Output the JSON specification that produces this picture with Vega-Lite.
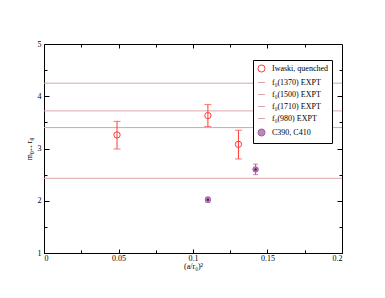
{
  "$schema": "https://vega.github.io/schema/vega-lite/v6.json",
  "width": 298,
  "height": 209,
  "autosize": {"type": "none"},
  "padding": {"left": 44, "top": 44, "right": 43, "bottom": 45},
  "background": "white",
  "config": {
    "view": {"stroke": "black", "strokeWidth": 1},
    "font": "Liberation Serif",
    "axis": {
      "grid": false,
      "domainColor": "black",
      "tickColor": "black",
      "labelColor": "black",
      "titleColor": "black",
      "labelFont": "Liberation Serif",
      "titleFont": "Liberation Serif",
      "labelFontSize": 8,
      "titleFontSize": 8,
      "titleFontWeight": "normal"
    },
    "legend": {
      "orient": "none",
      "legendX": 209,
      "legendY": 16,
      "strokeColor": "black",
      "fillColor": "white",
      "padding": 4,
      "labelFont": "Liberation Serif",
      "labelFontSize": 8,
      "labelColor": "black",
      "symbolSize": 50,
      "symbolStrokeWidth": 1,
      "rowPadding": 3,
      "labelOffset": 6
    }
  },
  "datasets": {
    "iwasaki": [
      {"x": 0.049, "y": 3.26, "lo": 2.99, "hi": 3.52, "series": "Iwaski, quenched"},
      {"x": 0.11, "y": 3.63, "lo": 3.42, "hi": 3.84, "series": "Iwaski, quenched"},
      {"x": 0.1305, "y": 3.08, "lo": 2.8, "hi": 3.35, "series": "Iwaski, quenched"}
    ],
    "clover": [
      {"x": 0.142, "y": 2.6, "lo": 2.5, "hi": 2.7, "series": "C390, C410"},
      {"x": 0.11, "y": 2.02, "lo": 1.97, "hi": 2.07, "series": "C390, C410"}
    ],
    "expt": [
      {"series": "f₀(1370) EXPT", "value": 3.4},
      {"series": "f₀(1500) EXPT", "value": 3.72},
      {"series": "f₀(1710) EXPT", "value": 4.25},
      {"series": "f₀(980)  EXPT", "value": 2.43}
    ]
  },
  "layer": [
    {
      "data": {"name": "expt"},
      "mark": {"type": "rule", "strokeWidth": 1},
      "encoding": {
        "y": {"field": "value", "type": "quantitative", "scale": {"domain": [1, 5], "nice": false}, "axis": null},
        "stroke": {"field": "series", "type": "nominal", "title": null,
          "scale": {
            "domain": ["Iwaski, quenched", "f₀(1370) EXPT", "f₀(1500) EXPT", "f₀(1710) EXPT", "f₀(980)  EXPT", "C390, C410"],
            "range": ["#ff3b3b", "#d9a3a6", "#dba8ae", "#d8a4ab", "#dca5a6", "#a060a0"]
          }
        }
      }
    },
    {
      "data": {"name": "iwasaki"},
      "mark": {"type": "errorbar", "ticks": {"size": 7, "color": "#ff3b3b"}, "color": "#ff3b3b"},
      "encoding": {
        "x": {"field": "x", "type": "quantitative", "scale": {"domain": [0, 0.2], "nice": false}, "axis": null},
        "y": {"field": "lo", "type": "quantitative", "scale": {"domain": [1, 5], "nice": false}, "axis": null},
        "y2": {"field": "hi"}
      }
    },
    {
      "data": {"name": "clover"},
      "mark": {"type": "errorbar", "ticks": {"size": 5, "color": "#9a5a9a"}, "color": "#9a5a9a"},
      "encoding": {
        "x": {"field": "x", "type": "quantitative", "scale": {"domain": [0, 0.2], "nice": false}, "axis": null},
        "y": {"field": "lo", "type": "quantitative", "scale": {"domain": [1, 5], "nice": false}, "axis": null},
        "y2": {"field": "hi"}
      }
    },
    {
      "data": {"name": "iwasaki"},
      "mark": {"type": "point", "size": 40, "strokeWidth": 1, "opacity": 1},
      "encoding": {
        "x": {"field": "x", "type": "quantitative", "scale": {"domain": [0, 0.2], "nice": false},
          "axis": {"orient": "bottom", "values": [0, 0.05, 0.1, 0.15, 0.2], "format": "~g", "tickSize": -4, "labelPadding": 5, "title": "(a/r₀)²", "titlePadding": 0}},
        "y": {"field": "y", "type": "quantitative", "scale": {"domain": [1, 5], "nice": false},
          "axis": {"orient": "left", "values": [1, 2, 3, 4, 5], "tickSize": -5, "labelPadding": 8, "title": "m₀₊₊ r₀", "titlePadding": 4}},
        "stroke": {"field": "series", "type": "nominal", "title": null},
        "fill": {"field": "series", "type": "nominal", "title": null,
          "scale": {
            "domain": ["Iwaski, quenched", "f₀(1370) EXPT", "f₀(1500) EXPT", "f₀(1710) EXPT", "f₀(980)  EXPT", "C390, C410"],
            "range": ["transparent", "transparent", "transparent", "transparent", "transparent", "#b888b8"]
          }
        },
        "shape": {"field": "series", "type": "nominal", "title": null,
          "scale": {
            "domain": ["Iwaski, quenched", "f₀(1370) EXPT", "f₀(1500) EXPT", "f₀(1710) EXPT", "f₀(980)  EXPT", "C390, C410"],
            "range": ["circle", "stroke", "stroke", "stroke", "stroke", "circle"]
          }
        }
      }
    },
    {
      "data": {"name": "clover"},
      "mark": {"type": "point", "size": 30, "strokeWidth": 1, "opacity": 1},
      "encoding": {
        "x": {"field": "x", "type": "quantitative", "scale": {"domain": [0, 0.2], "nice": false}, "axis": null},
        "y": {"field": "y", "type": "quantitative", "scale": {"domain": [1, 5], "nice": false}, "axis": null},
        "stroke": {"field": "series", "type": "nominal", "title": null},
        "fill": {"field": "series", "type": "nominal", "title": null},
        "shape": {"field": "series", "type": "nominal", "title": null}
      }
    },
    {
      "data": {"name": "clover"},
      "mark": {"type": "point", "size": 6, "filled": true, "color": "#6a0a5a", "opacity": 1},
      "encoding": {
        "x": {"field": "x", "type": "quantitative", "scale": {"domain": [0, 0.2], "nice": false}, "axis": null},
        "y": {"field": "y", "type": "quantitative", "scale": {"domain": [1, 5], "nice": false}, "axis": null}
      }
    },
    {
      "data": {"name": "iwasaki"},
      "mark": {"type": "point", "opacity": 0},
      "encoding": {
        "x": {"field": "x", "type": "quantitative", "scale": {"domain": [0, 0.2], "nice": false},
          "axis": {"orient": "bottom", "values": [0.025, 0.075, 0.125, 0.175], "tickSize": -3, "labels": false, "domain": false, "title": null}},
        "y": {"field": "y", "type": "quantitative", "scale": {"domain": [1, 5], "nice": false},
          "axis": {"orient": "left", "values": [1.5, 2.5, 3.5, 4.5], "tickSize": -3, "labels": false, "domain": false, "title": null}}
      }
    },
    {
      "data": {"name": "iwasaki"},
      "mark": {"type": "point", "opacity": 0},
      "encoding": {
        "x": {"field": "x", "type": "quantitative", "scale": {"domain": [0, 0.2], "nice": false},
          "axis": {"orient": "top", "values": [0.05, 0.1, 0.15], "tickSize": -4, "labels": false, "domain": false, "title": null}},
        "y": {"field": "y", "type": "quantitative", "scale": {"domain": [1, 5], "nice": false},
          "axis": {"orient": "right", "values": [2, 3, 4], "tickSize": -5, "labels": false, "domain": false, "title": null}}
      }
    },
    {
      "data": {"name": "iwasaki"},
      "mark": {"type": "point", "opacity": 0},
      "encoding": {
        "x": {"field": "x", "type": "quantitative", "scale": {"domain": [0, 0.2], "nice": false},
          "axis": {"orient": "top", "values": [0.025, 0.075, 0.125, 0.175], "tickSize": -3, "labels": false, "domain": false, "title": null}},
        "y": {"field": "y", "type": "quantitative", "scale": {"domain": [1, 5], "nice": false},
          "axis": {"orient": "right", "values": [1.5, 2.5, 3.5, 4.5], "tickSize": -3, "labels": false, "domain": false, "title": null}}
      }
    }
  ],
  "resolve": {"axis": {"x": "independent", "y": "independent"}}
}
